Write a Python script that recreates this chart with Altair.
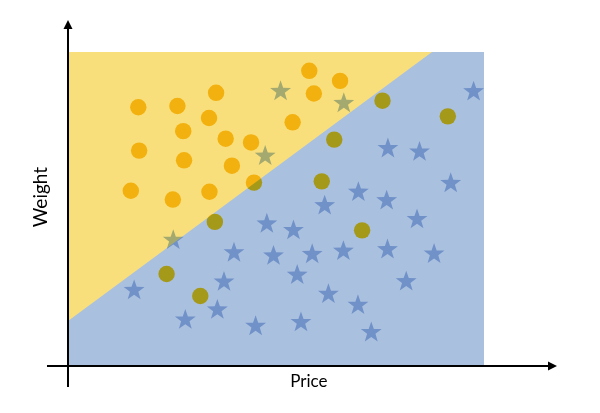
import math
import altair as alt
import pandas as pd

# ---- data (arbitrary units: region spans 0..10 on both axes) ----
circle_price = [1.69, 2.63, 3.56, 3.39, 2.77, 3.79, 4.40, 1.71, 2.79, 3.94, 4.47, 1.51, 2.52,
                3.40, 5.80, 6.54, 5.91, 5.40, 7.56, 9.13, 6.40, 6.10, 3.53, 2.37, 3.18, 7.07]
circle_weight = [8.24, 8.28, 8.70, 7.90, 7.48, 7.24, 7.12, 6.86, 6.55, 6.38, 5.84, 5.58, 5.30,
                 5.55, 9.40, 9.08, 8.68, 7.76, 8.45, 7.95, 7.21, 5.88, 4.59, 2.93, 2.23, 4.32]

star_price = [5.11, 6.63, 4.74, 9.75, 7.69, 8.45, 9.20, 6.98, 7.66, 6.17, 2.53, 4.78, 3.99,
              4.94, 1.59, 3.75, 3.59, 2.82, 4.51, 8.39, 5.42, 5.87, 6.62, 7.68, 8.80, 5.51,
              8.13, 6.26, 6.97, 5.60, 7.29]
star_weight = [8.78, 8.40, 6.72, 8.77, 6.96, 6.85, 5.85, 5.57, 5.30, 5.14, 4.04, 4.56, 3.64,
               3.54, 2.44, 2.71, 1.82, 1.50, 1.30, 4.70, 4.35, 3.59, 3.69, 3.74, 3.60, 2.93,
               2.72, 2.32, 1.97, 1.42, 1.10]

boundary_price = [0.0, 8.75]
boundary_weight = [1.43, 10.0]

region_price = [0.0, 10.0]
region_weight = [0.0, 10.0]

axis_price_extent = [-0.505, 11.647]
axis_weight_extent = [-0.669, 10.876]

axis_titles = ["Price", "Weight"]

# ---- styling ----
YELLOW = "#F9DF7B"
BLUE = "#AAC0DF"
CIRCLE_BASE = "#F8CB1D"
STAR_BASE = "#A8C2E6"

X_DOMAIN = [-1.4423, 12.5962]
Y_DOMAIN = [-1.242, 11.4013]

xs = alt.Scale(domain=X_DOMAIN, zero=False, nice=False)
ys = alt.Scale(domain=Y_DOMAIN, zero=False, nice=False)


def X(field, **kw):
    return alt.X(field, type="quantitative", scale=xs, axis=None, **kw)


def Y(field, **kw):
    return alt.Y(field, type="quantitative", scale=ys, axis=None, **kw)


# star symbol path within the -1..1 square
pts = []
for k in range(10):
    r = 1.0 if k % 2 == 0 else 0.4
    a = math.radians(-90 + 36 * k)
    pts.append((r * math.cos(a), r * math.sin(a) + 0.095))
STAR_PATH = "M" + "L".join(f"{px:.4f},{py:.4f}" for px, py in pts) + "Z"
ARROW_RIGHT = "M1,0L-1,-1L-1,1Z"
ARROW_UP = "M0,-1L1,1L-1,1Z"

# ---- tables ----
region_df = pd.DataFrame({"x": [region_price[0]], "x2": [region_price[1]],
                          "y": [region_weight[0]], "y2": [region_weight[1]]})
yellow_df = pd.DataFrame({"x": boundary_price, "y": boundary_weight,
                          "top": [region_weight[1]] * len(boundary_price)})
circles_df = pd.DataFrame({"price": circle_price, "weight": circle_weight})
stars_df = pd.DataFrame({"price": star_price, "weight": star_weight})
xaxis_df = pd.DataFrame({"x": [axis_price_extent[0]], "x2": [axis_price_extent[1]], "y": [0.0]})
yaxis_df = pd.DataFrame({"x": [0.0], "y": [axis_weight_extent[0]], "y2": [axis_weight_extent[1]]})
xarrow_df = pd.DataFrame({"x": [axis_price_extent[1]], "y": [0.0]})
yarrow_df = pd.DataFrame({"x": [0.0], "y": [axis_weight_extent[1]]})
xtitle_df = pd.DataFrame({"x": [5.79], "y": [-0.51], "t": [axis_titles[0]]})
ytitle_df = pd.DataFrame({"x": [-0.66], "y": [5.38], "t": [axis_titles[1]]})

blue = alt.Chart(region_df).mark_rect(color=BLUE).encode(
    x=X("x"), x2="x2", y=Y("y"), y2="y2")

yellow = alt.Chart(yellow_df).mark_area(color=YELLOW, opacity=1, interpolate="linear").encode(
    x=X("x"), y=Y("y"), y2="top")

circles = alt.Chart(circles_df).mark_point(
    shape="circle", filled=True, size=270, color=CIRCLE_BASE, opacity=1,
    strokeWidth=0, blend="multiply").encode(x=X("price"), y=Y("weight"))

stars = alt.Chart(stars_df).mark_point(
    shape=STAR_PATH, filled=True, size=484, color=STAR_BASE, opacity=1,
    strokeWidth=0, blend="multiply").encode(x=X("price"), y=Y("weight"))

xaxis = alt.Chart(xaxis_df).mark_rule(color="black", strokeWidth=2).encode(
    x=X("x"), x2="x2", y=Y("y"))
yaxis = alt.Chart(yaxis_df).mark_rule(color="black", strokeWidth=2).encode(
    x=X("x"), y=Y("y"), y2="y2")

xarrow = alt.Chart(xarrow_df).mark_point(
    shape=ARROW_RIGHT, filled=True, size=81, color="black", opacity=1, strokeWidth=0).encode(
    x=X("x"), y=Y("y"))
yarrow = alt.Chart(yarrow_df).mark_point(
    shape=ARROW_UP, filled=True, size=81, color="black", opacity=1, strokeWidth=0).encode(
    x=X("x"), y=Y("y"))

xtitle = alt.Chart(xtitle_df).mark_text(
    font="Lato", fontSize=17, color="black", align="center", baseline="middle").encode(
    x=X("x"), y=Y("y"), text="t:N")
ytitle = alt.Chart(ytitle_df).mark_text(
    font="Lato", fontSize=19, color="black", align="center", baseline="middle", angle=270).encode(
    x=X("x"), y=Y("y"), text="t:N")

chart = alt.layer(
    blue, yellow, circles, stars, xaxis, yaxis, xarrow, yarrow, xtitle, ytitle
).properties(
    width=584, height=397, autosize=alt.AutoSizeParams(type="none"), padding=0
).configure_view(stroke=None)

chart.save("out.html", embed_options={"renderer": "svg", "actions": False})
